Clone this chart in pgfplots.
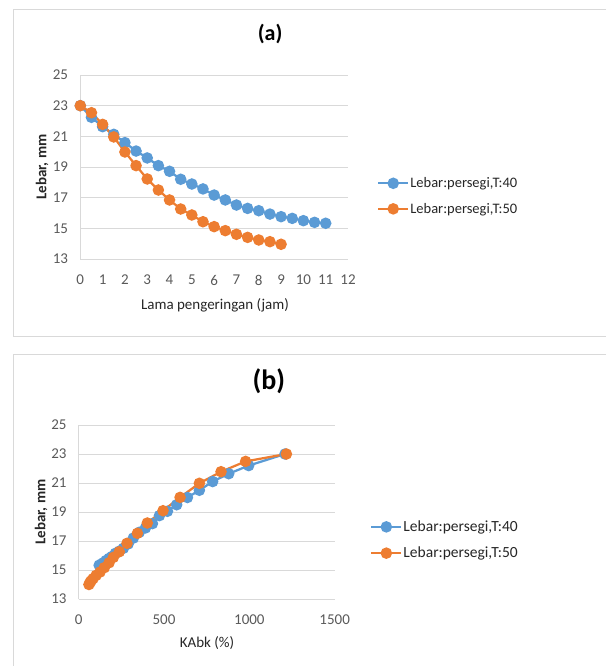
\documentclass[border=0pt]{standalone}
\usepackage{fontspec}
\setmainfont{Carlito}
\usepackage{pgfplots}
\pgfplotsset{compat=1.18}
\definecolor{sblue}{HTML}{5B9BD5}
\definecolor{sorange}{HTML}{ED7D31}
\definecolor{tickgray}{HTML}{595959}
\definecolor{gridgray}{HTML}{D9D9D9}
\definecolor{labelgray}{HTML}{262626}
\pgfplotsset{
  mystyle/.style={
    scale only axis,
    axis x line*=bottom, axis y line*=left,
    axis line style={gridgray, line width=0.75pt, -},
    ymajorgrids, major grid style={gridgray, line width=0.75pt},
    major tick length=0pt,
    /pgf/number format/assume math mode=true,
    /pgf/number format/1000 sep={},
    ticklabel style={font=\fontsize{15}{17}\selectfont, text=tickgray, inner sep=0pt},
    xticklabel style={anchor=center, yshift=-21pt},
    yticklabel style={anchor=east, xshift=-12pt},
    ylabel style={font=\bfseries\fontsize{15}{17}\selectfont, text=labelgray, anchor=center},
    xlabel style={font=\fontsize{15}{17}\selectfont, text=labelgray, anchor=center},
    title style={font=\bfseries\fontsize{22}{26}\selectfont, anchor=center},
    legend style={draw=none, fill=none, inner sep=0pt, row sep=12pt,
      font=\fontsize{14.5}{16}\selectfont, text=labelgray, nodes={inner sep=1pt}, anchor=west},
    legend cell align=left,
    legend image code/.code={\draw[mark repeat=2,mark phase=2,##1] plot coordinates {(0pt,0pt) (15pt,0pt) (30pt,0pt)};},
    every axis plot/.append style={line width=2.25pt, mark=*, mark size=4.6pt},
  }
}
\begin{document}
\begin{tikzpicture}
\path[use as bounding box] (0pt,0pt) rectangle (606pt,-666pt);
\draw[gridgray, line width=1pt] (606pt,-10pt) -- (13pt,-10pt) -- (13pt,-336pt) -- (606pt,-336pt);
\draw[gridgray, line width=1pt] (606pt,-354pt) -- (13pt,-354pt) -- (13pt,-667pt);
\begin{axis}[mystyle, at={(80.3pt,-259pt)}, anchor=south west,
  width=267.7pt, height=184pt,
  xmin=0, xmax=12, ymin=13, ymax=25,
  xtick={0,1,...,12}, ytick={13,15,...,25},
  title={(a)}, title style={at={(0.709,1.19)}},
  xlabel={Lama pengeringan (jam)}, xlabel style={at={(0.503,-0.25)}},
  ylabel={Lebar, mm}, ylabel style={at={(-0.143,0.5)}},
  legend style={at={(1.108,0.342)}}]
\addplot[sblue, mark options={fill=sblue, draw=sblue}] coordinates {
(0,23.0) (0.5,22.24) (1,21.63) (1.5,21.13) (2,20.59) (2.5,20.04) (3,19.59) (3.5,19.09)
(4,18.72) (4.5,18.2) (5,17.89) (5.5,17.57) (6,17.17) (6.5,16.85) (7,16.52) (7.5,16.3)
(8,16.15) (8.5,15.93) (9,15.76) (9.5,15.65) (10,15.5) (10.5,15.39) (11,15.33)};
\addlegendentry{Lebar:persegi,T:40}
\addplot[sorange, mark options={fill=sorange, draw=sorange}] coordinates {
(0,23.0) (0.5,22.54) (1,21.78) (1.5,20.96) (2,19.98) (2.5,19.09) (3,18.22) (3.5,17.5)
(4,16.85) (4.5,16.26) (5,15.87) (5.5,15.43) (6,15.11) (6.5,14.85) (7,14.61) (7.5,14.41)
(8,14.24) (8.5,14.13) (9,13.96)};
\addlegendentry{Lebar:persegi,T:50}
\end{axis}
\begin{axis}[mystyle, at={(78.7pt,-599pt)}, anchor=south west,
  width=256pt, height=174pt,
  xmin=0, xmax=1500, ymin=13, ymax=25,
  xtick={0,500,1000,1500}, ytick={13,15,...,25},
  title={(b)}, title style={at={(0.743,1.218)}, font=\bfseries\fontsize{28}{32}\selectfont},
  xlabel={KAbk (\%)}, xlabel style={at={(0.501,-0.253)}},
  ylabel={Lebar, mm}, ylabel style={at={(-0.147,0.5)}},
  legend style={at={(1.138,0.339)}, font=\fontsize{15.5}{17}\selectfont}]
\addplot[sblue, mark options={fill=sblue, draw=sblue}] coordinates {
(1209,23.0) (996,22.2) (879,21.64) (785,21.1) (707,20.5) (637,20.0) (574,19.5) (520,19.05)
(473,18.75) (432,18.2) (391,17.9) (355,17.6) (320,17.2) (290,16.8) (262,16.5) (238,16.3)
(215,16.15) (195,15.93) (178,15.8) (160,15.65) (145,15.5) (132,15.4) (120,15.33)};
\addlegendentry{Lebar:persegi,T:40}
\addplot[sorange, mark options={fill=sorange, draw=sorange}] coordinates {
(1217,23.0) (978,22.49) (834,21.78) (707,20.98) (594,20.01) (494,19.09) (402,18.24) (344,17.53)
(283,16.84) (238,16.26) (203,15.87) (178,15.5) (150,15.16) (125,14.86) (102,14.63) (84,14.4)
(72,14.24) (66,14.13) (60,14.0)};
\addlegendentry{Lebar:persegi,T:50}
\end{axis}
\end{tikzpicture}
\end{document}
